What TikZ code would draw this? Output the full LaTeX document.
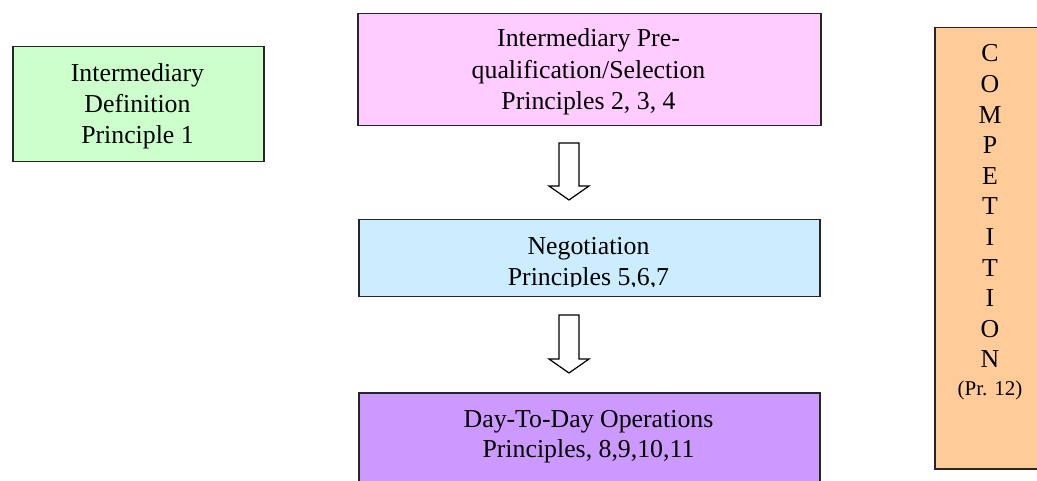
\documentclass[tikz,border=0pt]{standalone}
\usepackage{fontspec}
\setmainfont{Liberation Serif}
\usetikzlibrary{calc}

\definecolor{defgreen}{HTML}{CCFFCC}
\definecolor{selpink}{HTML}{FFCCFF}
\definecolor{negblue}{HTML}{CCECFF}
\definecolor{opviolet}{HTML}{CC99FF}
\definecolor{comporange}{HTML}{FFCC99}

\tikzset{
  stage/.style={draw=black!85, line width=1.5pt, rectangle, inner sep=0pt, anchor=north west},
  boxtext/.style={inner sep=0pt, anchor=base, font=\fontsize{25.8}{31}\selectfont},
  blockarrow/.style={draw=black, fill=white, line width=1.2pt, line join=miter}
}

\newcommand{\stack}[1]{\begin{tabular}[t]{@{}c@{}}#1\end{tabular}}

\begin{document}
\begin{tikzpicture}[x=1pt, y=-1pt]
  \clip (0,0) rectangle (1037,481);
  \fill[white] (0,0) rectangle (1037,481);

  % boxes
  \node[stage, fill=defgreen,   minimum width=251pt, minimum height=115pt] (def) at (12,46) {};
  \node[stage, fill=selpink,    minimum width=463pt, minimum height=112pt] (sel) at (357,13) {};
  \node[stage, fill=negblue,    minimum width=461pt, minimum height=77pt]  (neg) at (358,219) {};
  \node[stage, fill=opviolet,   minimum width=461pt, minimum height=110pt] (ops) at (358,392) {};
  \node[stage, fill=comporange, minimum width=112pt, minimum height=441pt] (comp) at (934,27) {};

  % texts
  \node[boxtext] (deftext) at (137.5,82) {\stack{Intermediary\\Definition\\Principle 1}};
  \node[boxtext] (seltext) at (588.5,47) {\stack{Intermediary Pre-\\[0.5pt]qualification/Selection\\[0.5pt]Principles 2, 3, 4}};
  \begin{scope}
    \clip (358,219) rectangle (819,286.5);
    \node[boxtext] (negtext) at (588.5,255) {\stack{Negotiation\\Principles 5,6,7}};
  \end{scope}
  \node[boxtext] (opstext) at (588.5,427) {\stack{Day-To-Day Operations\\[-1pt]Principles, 8,9,10,11}};
  \node[boxtext, font=\fontsize{25.8}{30.6}\selectfont] (comptext) at (990,62)
    {\stack{C\\O\\M\\P\\E\\T\\I\\T\\I\\O\\N\\[-2.6pt]{\fontsize{21}{25}\selectfont (Pr. 12)}}};

  % hollow block arrows between the stages
  \coordinate (a1s) at (569,143);
  \coordinate (a1t) at (569,200);
  \coordinate (a2s) at (569,315);
  \coordinate (a2t) at (569,373);
  \foreach \s/\t in {a1s/a1t, a2s/a2t} {
    \draw[blockarrow] ($(\s)+(-10,0)$) -- ($(\s)+(10,0)$) -- ($(\t)+(10,-14)$)
      -- ($(\t)+(20,-14)$) -- (\t) -- ($(\t)+(-20,-14)$) -- ($(\t)+(-10,-14)$) -- cycle;
  }
\end{tikzpicture}
\end{document}
